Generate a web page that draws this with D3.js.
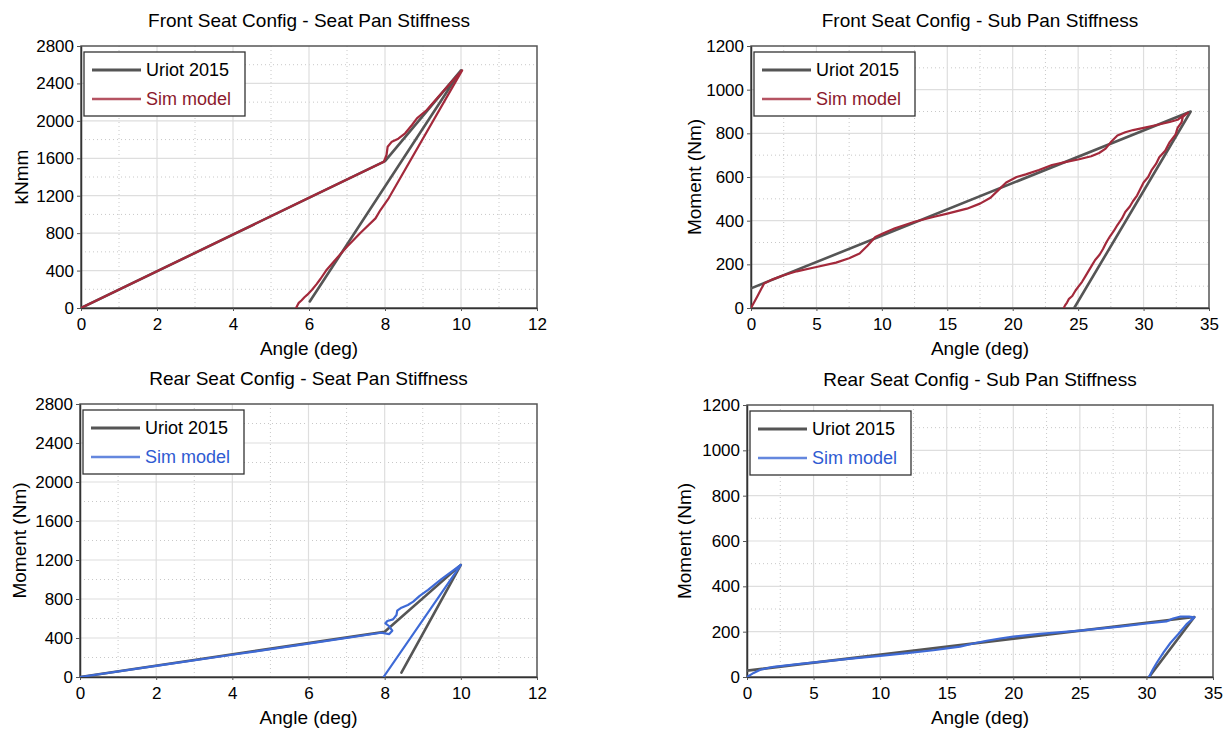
<!DOCTYPE html>
<html>
<head>
<meta charset="utf-8">
<script src="https://cdn.jsdelivr.net/npm/d3@7"></script>
<style>
  html, body { margin: 0; padding: 0; background: #ffffff; }
  svg { display: block; font-family: "Liberation Sans", Arial, sans-serif; }
</style>
</head>
<body>
<svg id="chart" width="1231" height="731"></svg>
<script>
// ---- Tick values ----
const seatPanAngleTicks = [0, 2, 4, 6, 8, 10, 12];
const seatPanMomentTicks = [0, 400, 800, 1200, 1600, 2000, 2400, 2800];
const subPanAngleTicks = [0, 5, 10, 15, 20, 25, 30, 35];
const subPanMomentTicks = [0, 200, 400, 600, 800, 1000, 1200];

// ---- Series names ----
const seriesNames = ["Uriot 2015", "Sim model"];

// ---- Front seat, seat pan: [angle (deg), moment] ----
const frontSeatPanUriot = [[0, 0], [8, 1570], [10, 2540], [6.02, 70]];
const frontSeatPanSim = [
  [0, 0], [2, 392], [4, 785], [6, 1178], [7.97, 1563], [8.04, 1635], [8.07, 1724],
  [8.18, 1778], [8.35, 1810], [8.53, 1867], [8.71, 1956], [8.84, 2027], [9.1, 2116],
  [9.37, 2241], [9.72, 2402], [10.03, 2540], [8.1, 1175], [7.88, 1047], [7.75, 958],
  [7.35, 801], [7.0, 655], [6.65, 495], [6.45, 400], [6.3, 310], [6.2, 255],
  [6.08, 195], [5.95, 140], [5.88, 115], [5.8, 80], [5.73, 55], [5.69, 25], [5.66, 0]
];

// ---- Front seat, sub pan ----
const frontSubPanUriot = [[0, 90], [33.6, 900], [24.7, 0]];
const frontSubPanSim = [
  [0, 0], [0.5, 55], [1.0, 112], [1.6, 130], [2.5, 150], [3.5, 168], [5, 188],
  [6.5, 208], [7.5, 228], [8.3, 250], [8.9, 285], [9.5, 325], [10.2, 345], [11, 365],
  [12.5, 395], [14, 418], [15, 432], [16.5, 455], [17.5, 478], [18.3, 505], [18.9, 540],
  [19.5, 575], [20.3, 600], [21, 612], [22, 632], [23, 655], [24, 668], [25, 680],
  [26, 695], [26.6, 710], [27.1, 730], [27.5, 760], [28, 790], [28.6, 805], [29.2, 815],
  [30, 825], [31, 838], [32, 852], [32.6, 862], [33.0, 880], [33.4, 895],
  [33.0, 875], [32.9, 850], [32.6, 825], [32.45, 795], [32.0, 760], [31.65, 720],
  [31.2, 690], [30.95, 660], [30.6, 630], [30.35, 600], [30.0, 575], [29.75, 545],
  [29.5, 515], [29.2, 490], [28.95, 465], [28.6, 440], [28.35, 410], [28.0, 380],
  [27.75, 355], [27.4, 325], [27.15, 300], [26.9, 270], [26.65, 245], [26.3, 220],
  [26.05, 195], [25.8, 170], [25.55, 145], [25.3, 120], [25.05, 100], [24.8, 80],
  [24.55, 55], [24.3, 42], [24.15, 25], [24.0, 12], [23.9, 0]
];

// ---- Rear seat, seat pan ----
const rearSeatPanUriot = [[0, 0], [8, 465], [10, 1150], [8.44, 44]];
const rearSeatPanSim = [
  [0, 0], [2, 114], [4, 228], [6, 342], [7.91, 454], [8.12, 440], [8.2, 475],
  [8.11, 523], [8.02, 551], [8.07, 574], [8.22, 591], [8.31, 636], [8.33, 680],
  [8.44, 711], [8.61, 739], [8.75, 773], [8.92, 832], [9.14, 893], [9.49, 1003],
  [10.0, 1150], [7.97, 0]
];

// ---- Rear seat, sub pan ----
const rearSubPanUriot = [[0, 28], [33.6, 265], [30.2, 0]];
const rearSubPanSim = [
  [0, 0], [0.5, 18], [1, 32], [2, 45], [4, 58], [6, 70], [8, 82], [10, 93], [12, 105],
  [14, 118], [15, 126], [16, 134], [17, 148], [18, 160], [19, 170], [20, 178], [22, 190],
  [25, 205], [28, 222], [30, 236], [31.5, 245], [32, 258], [32.5, 266], [33.2, 266],
  [33.6, 263], [33.0, 232], [32.4, 190], [31.8, 150], [31.3, 110], [30.8, 65],
  [30.5, 35], [30.2, 0]
];

// ---- Panel layout and styling ----
const uriotColor = "#555555";
const panels = [
  { title: "Front Seat Config - Seat Pan Stiffness", yLabel: "kNmm",
    left: 81, right: 537, top: 46, bottom: 308, yTitleX: 21,
    xTicks: seatPanAngleTicks, yTicks: seatPanMomentTicks,
    uriot: frontSeatPanUriot, sim: frontSeatPanSim, simColor: "#a3293b", simText: "#8c1a2d" },
  { title: "Front Seat Config - Sub Pan Stiffness", yLabel: "Moment (Nm)",
    left: 751, right: 1209, top: 46, bottom: 308, yTitleX: 694,
    xTicks: subPanAngleTicks, yTicks: subPanMomentTicks,
    uriot: frontSubPanUriot, sim: frontSubPanSim, simColor: "#a3293b", simText: "#8c1a2d" },
  { title: "Rear Seat Config - Seat Pan Stiffness", yLabel: "Moment (Nm)",
    left: 80, right: 537, top: 404, bottom: 677, yTitleX: 19,
    xTicks: seatPanAngleTicks, yTicks: seatPanMomentTicks,
    uriot: rearSeatPanUriot, sim: rearSeatPanSim, simColor: "#3e6ad6", simText: "#2f5bd2" },
  { title: "Rear Seat Config - Sub Pan Stiffness", yLabel: "Moment (Nm)",
    left: 747, right: 1213, top: 405, bottom: 677, yTitleX: 684,
    xTicks: subPanAngleTicks, yTicks: subPanMomentTicks,
    uriot: rearSubPanUriot, sim: rearSubPanSim, simColor: "#3e6ad6", simText: "#2f5bd2" }
];

const svg = d3.select("#chart");
const plainNumber = d3.format("d");

function drawPanel(p) {
  const g = svg.append("g");
  const xs = p.xTicks, ys = p.yTicks;
  const x = d3.scaleLinear().domain([xs[0], xs[xs.length - 1]]).range([p.left, p.right]);
  const y = d3.scaleLinear().domain([ys[0], ys[ys.length - 1]]).range([p.bottom, p.top]);
  const xStep = xs[1] - xs[0], yStep = ys[1] - ys[0];

  // minor (dotted) grid at half steps
  const xMinor = xs.slice(0, -1).map(v => v + xStep / 2);
  const yMinor = ys.slice(0, -1).map(v => v + yStep / 2);
  g.append("g").selectAll("line").data(xMinor).join("line")
    .attr("x1", d => x(d)).attr("x2", d => x(d)).attr("y1", p.top).attr("y2", p.bottom)
    .attr("stroke", "#c8c8c8").attr("stroke-width", 1).attr("stroke-dasharray", "1,3");
  g.append("g").selectAll("line").data(yMinor).join("line")
    .attr("x1", p.left).attr("x2", p.right).attr("y1", d => y(d)).attr("y2", d => y(d))
    .attr("stroke", "#c8c8c8").attr("stroke-width", 1).attr("stroke-dasharray", "1,3");

  // major grid
  g.append("g").selectAll("line").data(xs.slice(1, -1)).join("line")
    .attr("x1", d => x(d)).attr("x2", d => x(d)).attr("y1", p.top).attr("y2", p.bottom)
    .attr("stroke", "#dedede").attr("stroke-width", 1.2);
  g.append("g").selectAll("line").data(ys.slice(1, -1)).join("line")
    .attr("x1", p.left).attr("x2", p.right).attr("y1", d => y(d)).attr("y2", d => y(d))
    .attr("stroke", "#dedede").attr("stroke-width", 1.2);

  // frame
  g.append("rect").attr("x", p.left).attr("y", p.top)
    .attr("width", p.right - p.left).attr("height", p.bottom - p.top)
    .attr("fill", "none").attr("stroke", "#555").attr("stroke-width", 1.5);

  // axes
  const xAxis = g.append("g").attr("transform", `translate(0,${p.bottom})`)
    .call(d3.axisBottom(x).tickValues(xs).tickFormat(plainNumber)
      .tickSize(3).tickPadding(7).tickSizeOuter(0));
  const yAxis = g.append("g").attr("transform", `translate(${p.left},0)`)
    .call(d3.axisLeft(y).tickValues(ys).tickFormat(plainNumber)
      .tickSize(4).tickPadding(3).tickSizeOuter(0));
  [xAxis, yAxis].forEach(a => {
    a.select(".domain").attr("stroke", "#333").attr("stroke-width", 1.5);
    a.selectAll(".tick line").attr("stroke", "#555");
    a.selectAll(".tick text").attr("fill", "#000").style("font-size", "17px")
      .style("font-family", "'Liberation Sans', Arial, sans-serif");
  });

  // series
  const line = d3.line().x(d => x(d[0])).y(d => y(d[1]));
  const clipId = "clip" + Math.round(p.left) + "_" + Math.round(p.top);
  svg.append("clipPath").attr("id", clipId).append("rect")
    .attr("x", p.left).attr("y", p.top - 2).attr("width", p.right - p.left + 2).attr("height", p.bottom - p.top + 2);
  const lines = g.append("g").attr("clip-path", `url(#${clipId})`);
  lines.append("path").datum(p.uriot).attr("d", line)
    .attr("fill", "none").attr("stroke", uriotColor).attr("stroke-width", 2.6)
    .attr("stroke-linejoin", "round").attr("stroke-linecap", "round");
  lines.append("path").datum(p.sim).attr("d", line)
    .attr("fill", "none").attr("stroke", p.simColor).attr("stroke-width", 2.2)
    .attr("stroke-linejoin", "round").attr("stroke-linecap", "round");

  // titles
  g.append("text").attr("x", (p.left + p.right) / 2).attr("y", p.top - 19)
    .attr("text-anchor", "middle").style("font-size", "19px").attr("fill", "#000").text(p.title);
  g.append("text").attr("x", (p.left + p.right) / 2).attr("y", p.bottom + 47)
    .attr("text-anchor", "middle").style("font-size", "19px").attr("fill", "#000").text("Angle (deg)");
  g.append("text").attr("transform", `translate(${p.yTitleX},${(p.top + p.bottom) / 2}) rotate(-90)`)
    .attr("dy", "0.35em").attr("text-anchor", "middle").style("font-size", "19px")
    .attr("fill", "#000").text(p.yLabel);

  // legend
  const lx = p.left + 3, ly = p.top + 6;
  const lg = g.append("g");
  lg.append("rect").attr("x", lx).attr("y", ly).attr("width", 161).attr("height", 64)
    .attr("fill", "#fff").attr("stroke", "#333").attr("stroke-width", 1.3);
  const entries = [
    { name: seriesNames[0], color: uriotColor, text: "#000", w: 2.8 },
    { name: seriesNames[1], color: p.simColor, text: p.simText, w: 2.4 }
  ];
  entries.forEach((e, i) => {
    const ry = ly + 18 + i * 29;
    lg.append("line").attr("x1", lx + 8).attr("x2", lx + 57).attr("y1", ry).attr("y2", ry)
      .attr("stroke", e.color).attr("stroke-width", e.w).attr("opacity", i === 1 ? 0.8 : 1);
    lg.append("text").attr("x", lx + 62).attr("y", ry).attr("dy", "0.35em")
      .style("font-size", "18px").attr("fill", e.text).text(e.name);
  });
}

panels.forEach(drawPanel);
</script>
</body>
</html>
